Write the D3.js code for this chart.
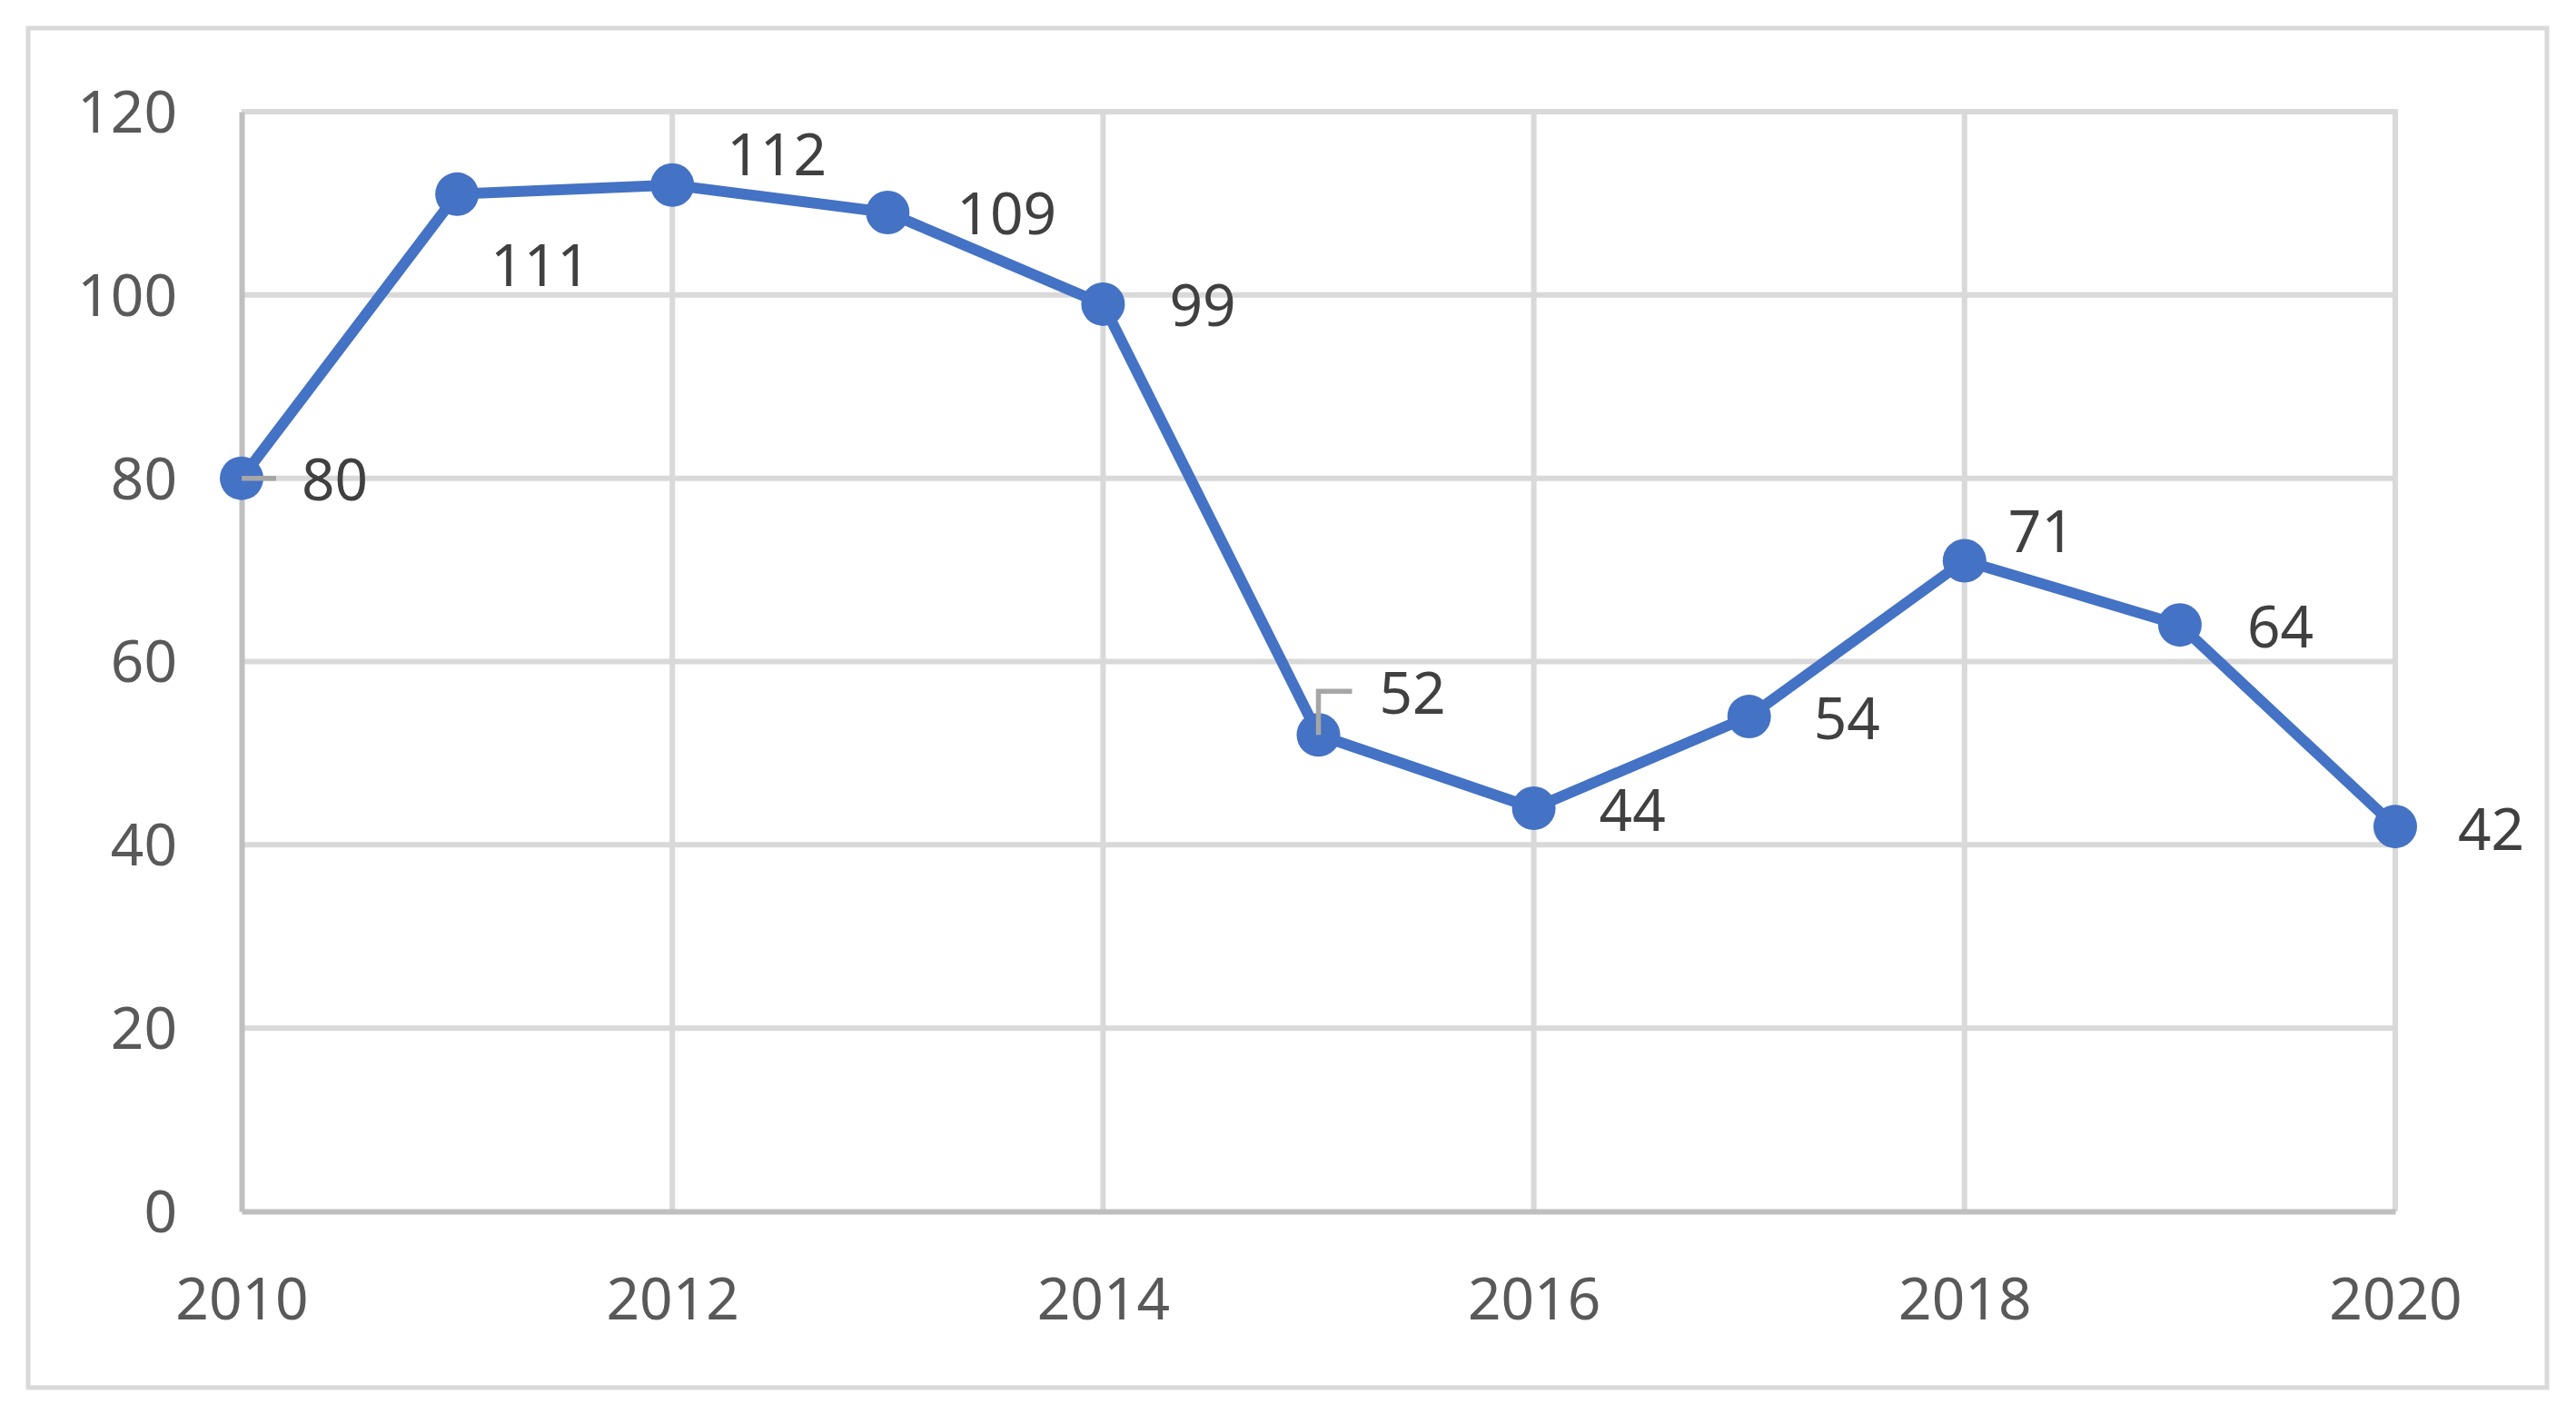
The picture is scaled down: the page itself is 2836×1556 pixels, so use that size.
<!DOCTYPE html>
<html>
<head>
<meta charset="utf-8">
<script src="https://cdn.jsdelivr.net/npm/d3@7"></script>
<style>
  html, body { margin: 0; padding: 0; background: #fff; }
  svg { display: block; font-family: "Noto Sans", "Open Sans", sans-serif; }
</style>
</head>
<body>
<svg id="chart" width="2836" height="1556"></svg>
<script>
// data
const years = [2010, 2011, 2012, 2013, 2014, 2015, 2016, 2017, 2018, 2019, 2020];
const values = [80, 111, 112, 109, 99, 52, 44, 54, 71, 64, 42];
const xTicks = [2010, 2012, 2014, 2016, 2018, 2020];
const yTicks = [0, 20, 40, 60, 80, 100, 120];

// label placement (offset from the marker), Excel-like
const labelPlacement = [
  { dx: 66, dy: 2, leader: [[0, 0], [38, 0]] },
  { dx: 37, dy: 79 },
  { dx: 60, dy: -33 },
  { dx: 76, dy: 2 },
  { dx: 73, dy: 2 },
  { dx: 67, dy: -46, leader: [[0, 0], [0, -48], [37, -48]] },
  { dx: 72, dy: 3 },
  { dx: 71, dy: 3 },
  { dx: 48, dy: -32 },
  { dx: 74, dy: 2 },
  { dx: 69, dy: 3 }
];

const colors = {
  line: '#4472c4',
  grid: '#d9d9d9',
  axis: '#bfbfbf',
  tick: '#595959',
  label: '#404040',
  leader: '#a6a6a6'
};

const margin = { left: 266, right: 199, top: 123, bottom: 222 };
const size = { width: 2836, height: 1556 };
const fontSize = 64;

const svg = d3.select('#chart');

svg.append('rect')
  .attr('x', 31).attr('y', 31)
  .attr('width', 2773).attr('height', 1497)
  .attr('fill', '#fff')
  .attr('stroke', colors.grid)
  .attr('stroke-width', 5);

const x = d3.scaleLinear()
  .domain([2010, 2020])
  .range([margin.left, size.width - margin.right]);

const y = d3.scaleLinear()
  .domain([0, 120])
  .range([size.height - margin.bottom, margin.top]);

const grid = svg.append('g');

// horizontal gridlines
grid.selectAll('.hgrid')
  .data(yTicks.filter(d => d > 0))
  .enter()
  .append('line')
  .attr('x1', x(2010)).attr('x2', x(2020) + 3)
  .attr('y1', d => y(d)).attr('y2', d => y(d))
  .attr('stroke', colors.grid)
  .attr('stroke-width', 6);

// vertical gridlines
grid.selectAll('.vgrid')
  .data(xTicks.filter(d => d > 2010))
  .enter()
  .append('line')
  .attr('x1', d => x(d)).attr('x2', d => x(d))
  .attr('y1', y(0)).attr('y2', y(120) - 3)
  .attr('stroke', colors.grid)
  .attr('stroke-width', 6);

// axes
const yAxis = svg.append('g')
  .attr('transform', `translate(${x(2010)},0)`)
  .call(d3.axisLeft(y).tickValues(yTicks).tickSize(0).tickPadding(71));

const xAxis = svg.append('g')
  .attr('transform', `translate(0,${y(0)})`)
  .call(d3.axisBottom(x).tickValues(xTicks).tickFormat(d3.format('d')).tickSize(0));

[yAxis, xAxis].forEach(a => {
  a.select('.domain')
    .attr('stroke', colors.axis)
    .attr('stroke-width', 6);
  a.selectAll('text')
    .attr('fill', colors.tick)
    .attr('font-size', fontSize)
    .attr('font-family', '"Noto Sans", "Open Sans", sans-serif');
});
yAxis.selectAll('text').attr('dy', '0.35em');
xAxis.selectAll('text').attr('y', 119).attr('dy', 0);

// series
const points = years.map((yr, i) => ({ year: yr, value: values[i], place: labelPlacement[i] }));

const line = d3.line()
  .x(d => x(d.year))
  .y(d => y(d.value));

svg.append('path')
  .datum(points)
  .attr('d', line)
  .attr('fill', 'none')
  .attr('stroke', colors.line)
  .attr('stroke-width', 12)
  .attr('stroke-linejoin', 'round');

svg.selectAll('circle.marker')
  .data(points)
  .enter()
  .append('circle')
  .attr('class', 'marker')
  .attr('cx', d => x(d.year))
  .attr('cy', d => y(d.value))
  .attr('r', 24)
  .attr('fill', colors.line);

// leader lines
svg.selectAll('path.leader')
  .data(points.filter(d => d.place.leader))
  .enter()
  .append('path')
  .attr('class', 'leader')
  .attr('d', d => d3.line()(d.place.leader.map(p => [x(d.year) + p[0], y(d.value) + p[1]])))
  .attr('fill', 'none')
  .attr('stroke', colors.leader)
  .attr('stroke-width', 5.5);

// data labels
svg.selectAll('text.dlabel')
  .data(points)
  .enter()
  .append('text')
  .attr('class', 'dlabel')
  .attr('x', d => x(d.year) + d.place.dx)
  .attr('y', d => y(d.value) + d.place.dy)
  .attr('dy', '0.35em')
  .attr('fill', colors.label)
  .attr('font-size', fontSize)
  .text(d => d.value);
</script>
</body>
</html>
